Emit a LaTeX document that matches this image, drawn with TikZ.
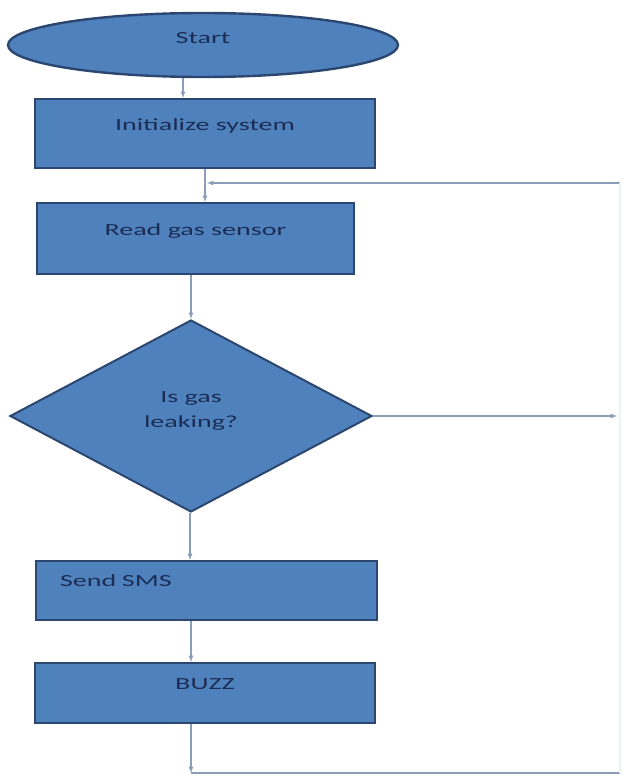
\documentclass[tikz,border=0pt]{standalone}
\usepackage{fontspec}
\setmainfont[FakeStretch=1.65]{Carlito}
\usetikzlibrary{arrows,shapes.geometric}
\definecolor{boxblue}{HTML}{4F81BD}
\definecolor{boxedge}{HTML}{2B4770}
\definecolor{boxtext}{HTML}{1C2D55}
\definecolor{flowline}{HTML}{8C9DB8}
\definecolor{edgeline}{HTML}{EDF3FA}

\begin{document}
\begin{tikzpicture}[
  >=latex,
  x=1pt, y=-1pt,
  every node/.style={draw=boxedge,line width=2pt,fill=boxblue,text=boxtext,font=\fontsize{17}{25}\selectfont},
  lift/.style={text height=12pt,text depth=#1},
  proc/.style={rectangle,inner sep=0pt},
  flow/.style={draw=flowline,line width=1.2pt},
  ]
  \useasboundingbox (0,0) rectangle (622,775);

  \node[ellipse, minimum width=390pt, minimum height=64pt, inner sep=0pt, line width=2.4pt, lift=15pt] (start) at (203,45) {Start};
  \node[proc, minimum width=340pt, minimum height=69pt, lift=18pt] (init) at (205,133.5) {Initialize system};
  \node[proc, minimum width=317pt, minimum height=71pt, lift=18pt] (read) at (195.5,238.5) {Read gas sensor};
  \node[diamond, minimum width=362pt, minimum height=192pt, inner sep=0pt, align=center, text depth=13pt] (dec) at (191,416) {Is gas\\leaking?};
  \node[proc, minimum width=341pt, minimum height=59pt, inner xsep=24pt, text width=293pt, align=left, lift=20pt] (send) at (206.5,590.5) {Send SMS};
  \node[proc, minimum width=340pt, minimum height=60pt, lift=19pt] (buzz) at (205,693) {BUZZ};

  \coordinate (tr) at (620,183);
  \coordinate (br) at (620,773);
  \coordinate (bl) at (191,773);

  \draw [flow,->] ([xshift=-20pt]start.south) -- ([xshift=-22pt]init.north);
  \draw [flow,->] (init.south) -- ([xshift=9.5pt]read.north);
  \draw [flow,->] (tr) -- ([xshift=2pt]init.south |- tr);
  \draw [flow,->] ([xshift=-4.5pt]read.south) -- (dec.north);
  \draw [flow,->] (dec.east) -- ([xshift=-3pt]dec.east -| tr);
  \draw [flow,->] ([xshift=-1pt]dec.south) -- ([xshift=-1pt]dec.south |- send.north);
  \draw [flow,->] (send.south -| bl) -- (buzz.north -| bl);
  \draw [flow,->] (buzz.south -| bl) -- (bl);
  \draw [flow] (bl) -- (br);
  \draw [flow,draw=edgeline] (br) -- (tr);

\end{tikzpicture}
\end{document}
